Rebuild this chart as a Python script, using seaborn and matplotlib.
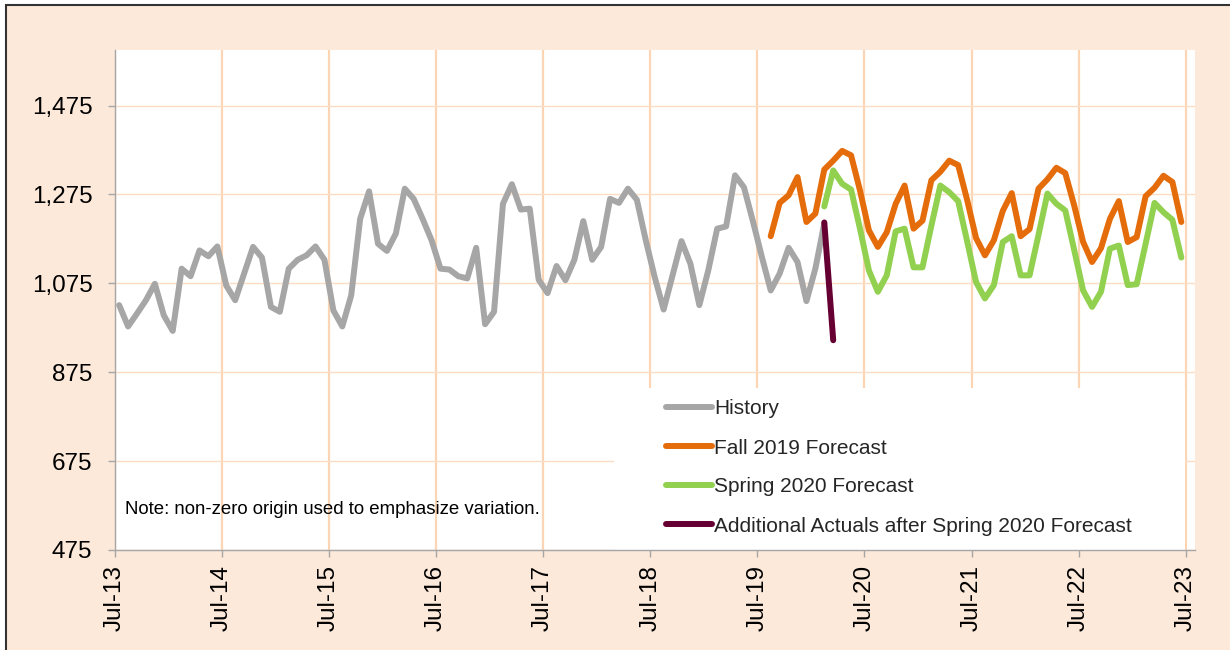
import numpy as np
import pandas as pd
import matplotlib
matplotlib.use("Agg")
import matplotlib.pyplot as plt
import seaborn as sns
from matplotlib.patches import Rectangle
from matplotlib.ticker import FixedLocator, FuncFormatter

# ---------------- data (monthly values) ----------------
axis_start = "2013-07"

history_start = "2013-07"
history = [1026, 978, 1007, 1037, 1074, 1003, 968, 1108, 1091, 1149, 1136, 1158,
           1070, 1037, 1097, 1157, 1133, 1022, 1011, 1108, 1128, 1138, 1158, 1128,
           1014, 978, 1048, 1220, 1282, 1164, 1148, 1187, 1288, 1265, 1220, 1172,
           1108, 1106, 1091, 1086, 1155, 983, 1011, 1254, 1298, 1241, 1243, 1083,
           1053, 1114, 1082, 1128, 1215, 1128, 1157, 1265, 1256, 1288, 1263, 1172,
           1089, 1016, 1093, 1170, 1119, 1026, 1104, 1198, 1203, 1318, 1291, 1215,
           1135, 1059, 1097, 1155, 1123, 1035, 1108, 1210]

fall_start = "2019-08"
fall_2019 = [1181, 1256, 1273, 1314, 1213, 1232, 1331, 1351, 1373, 1363, 1284,
             1194, 1157, 1190, 1254, 1295, 1198, 1216, 1307, 1326, 1351, 1341, 1263,
             1177, 1138, 1172, 1238, 1278, 1181, 1197, 1288, 1309, 1335, 1323, 1250,
             1168, 1123, 1154, 1220, 1260, 1168, 1179, 1271, 1290, 1317, 1303, 1213]

spring_start = "2020-02"
spring_2020 = [1248, 1329, 1299, 1286, 1198, 1104, 1056, 1093, 1192, 1198, 1111,
               1111, 1205, 1295, 1280, 1260, 1170, 1078, 1041, 1071, 1168, 1181, 1093,
               1093, 1184, 1277, 1254, 1239, 1150, 1059, 1022, 1056, 1153, 1160, 1071,
               1073, 1164, 1256, 1235, 1218, 1133]

actuals_start = "2020-02"
additional_actuals = [1212, 947]

series_names = ["History", "Fall 2019 Forecast", "Spring 2020 Forecast",
                "Additional Actuals after Spring 2020 Forecast"]
series_colors = ["#A6A6A6", "#E46C0A", "#92D050", "#660033"]

x_tick_labels = ["Jul-13", "Jul-14", "Jul-15", "Jul-16", "Jul-17", "Jul-18",
                 "Jul-19", "Jul-20", "Jul-21", "Jul-22", "Jul-23"]
y_ticks = [475, 675, 875, 1075, 1275, 1475]
y_max = 1600
n_axis_months = 121

note_text = "Note: non-zero origin used to emphasize variation."


def month_positions(start, n):
    off = (pd.Period(start, "M") - pd.Period(axis_start, "M")).n
    return np.arange(off, off + n) + 0.5


frames = []
for name, start, vals in zip(series_names,
                             [history_start, fall_start, spring_start, actuals_start],
                             [history, fall_2019, spring_2020, additional_actuals]):
    frames.append(pd.DataFrame({"x": month_positions(start, len(vals)),
                                "value": vals, "series": name}))
df = pd.concat(frames, ignore_index=True)

# ---------------- figure ----------------
sns.set_theme(style="white")
plt.rcParams["font.family"] = ["Liberation Sans", "DejaVu Sans"]

W, H = 1230, 650
fig = plt.figure(figsize=(W / 100, H / 100), dpi=100, facecolor="white")
# peach panel with dark border on top / left
fig.patches.append(Rectangle((6 / W, -0.05), 1.1, (645 / H) + 0.05,
                             transform=fig.transFigure, facecolor="#FDE9D9",
                             edgecolor="#333333", linewidth=1.5, zorder=-10))

ax = fig.add_axes([114.7 / W, 100 / H, 1080 / W, 500 / H])
ax.set_zorder(1)
ax.set_facecolor("white")
ax.set_axisbelow(True)

sns.lineplot(data=df, x="x", y="value", hue="series", hue_order=series_names,
             palette=series_colors, linewidth=4.3, estimator=None, sort=False,
             legend=False, ax=ax)
for ln in ax.lines:
    ln.set_solid_joinstyle("round")
    ln.set_solid_capstyle("round")
    ln.set_zorder(3)

ax.set_xlim(0, n_axis_months)
ax.set_ylim(y_ticks[0], y_max)

ax.xaxis.set_major_locator(FixedLocator([12 * i for i in range(len(x_tick_labels))]))
ax.set_xticklabels(x_tick_labels, rotation=90, fontsize=17.5)
ax.yaxis.set_major_locator(FixedLocator(y_ticks))
ax.yaxis.set_major_formatter(FuncFormatter(lambda v, p: f"{v:,.0f}"))
for lab in ax.get_yticklabels():
    lab.set_fontsize(17.5)

ax.grid(axis="x", color="#FCD5B4", linewidth=1.6)
ax.grid(axis="y", color="#FCDCC4", linewidth=1.0)

for s in ["top", "right"]:
    ax.spines[s].set_visible(False)
for s in ["left", "bottom"]:
    ax.spines[s].set_color("#A6A6A6")
    ax.spines[s].set_linewidth(1.0)
    ax.spines[s].set_zorder(4)

ax.tick_params(axis="x", bottom=True, direction="out", length=5, width=1,
               color="#A6A6A6", pad=6, labelcolor="black")
ax.tick_params(axis="y", left=True, direction="out", length=5, width=1,
               color="#A6A6A6", pad=11, labelcolor="black")
ax.set_xlabel("")
ax.set_ylabel("")

# white legend panel
ax.add_patch(Rectangle((0.4625, 0.0), 0.5285, 0.324, transform=ax.transAxes,
                       facecolor="white", edgecolor="none", zorder=2))

leg = ax.legend(ax.lines, series_names, loc="upper left",
                bbox_to_anchor=(0.5105, 0.301), frameon=False, fontsize=15,
                handlelength=2.2, handletextpad=0.1, labelspacing=0.96,
                borderpad=0, borderaxespad=0)
leg.set_zorder(5)

ax.text(0.0095, 0.082, note_text, transform=ax.transAxes, fontsize=13.4,
        va="center", ha="left", color="black", zorder=5)

fig.savefig("out.png", dpi=100, facecolor=fig.get_facecolor())
